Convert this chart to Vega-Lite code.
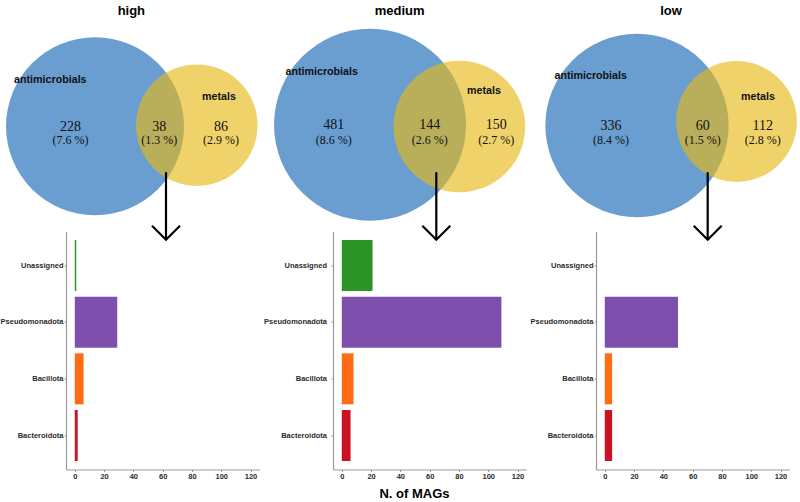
{
  "$schema": "https://vega.github.io/schema/vega-lite/v6.json",
  "background": "white",
  "padding": {"left": 0, "top": 4.5, "right": 0, "bottom": 0},
  "config": {
    "view": {"stroke": null},
    "font": "Liberation Sans",
    "title": {"font": "Liberation Sans", "fontSize": 13, "fontWeight": "bold", "color": "#000000", "anchor": "middle"},
    "axis": {"grid": false, "labelFont": "Liberation Sans", "labelFontSize": 7.5, "labelFontWeight": "bold", "labelColor": "#2b2b2b", "tickColor": "#999999", "domainColor": "#999999", "domainWidth": 1.2}
  },
  "datasets": {
    "sets": [
      {"level": "high", "set": "antimicrobials", "total": 266, "cx": 35.89, "cy": 54.46, "lx": 19.13, "ly": 34.2},
      {"level": "high", "set": "metals", "total": 124, "cx": 74.06, "cy": 53.98, "lx": 82.39, "ly": 41.86},
      {"level": "medium", "set": "antimicrobials", "total": 625, "cx": 39.5, "cy": 53.77, "lx": 21.39, "ly": 31.04},
      {"level": "medium", "set": "metals", "total": 294, "cx": 72.99, "cy": 54.55, "lx": 82.25, "ly": 39.26},
      {"level": "low", "set": "antimicrobials", "total": 396, "cx": 38.5, "cy": 54.11, "lx": 21.14, "ly": 32.9},
      {"level": "low", "set": "metals", "total": 172, "cx": 75.81, "cy": 52.38, "lx": 83.87, "ly": 41.69}
    ],
    "regions": [
      {"level": "high", "region": "antimicrobials only", "n": 228, "pct": 7.6, "tx": 26.74, "ty": 54.55},
      {"level": "high", "region": "both", "n": 38, "pct": 1.3, "tx": 60.0, "ty": 54.55},
      {"level": "high", "region": "metals only", "n": 86, "pct": 2.9, "tx": 83.14, "ty": 54.55},
      {"level": "medium", "region": "antimicrobials only", "n": 481, "pct": 8.6, "tx": 25.89, "ty": 53.9},
      {"level": "medium", "region": "both", "n": 144, "pct": 2.6, "tx": 61.89, "ty": 53.9},
      {"level": "medium", "region": "metals only", "n": 150, "pct": 2.7, "tx": 86.86, "ty": 53.9},
      {"level": "low", "region": "antimicrobials only", "n": 336, "pct": 8.4, "tx": 28.75, "ty": 54.42},
      {"level": "low", "region": "both", "n": 60, "pct": 1.5, "tx": 63.14, "ty": 54.42},
      {"level": "low", "region": "metals only", "n": 112, "pct": 2.8, "tx": 85.64, "ty": 54.42}
    ],
    "arrows": [
      {"level": "high", "ax": 62.51, "ay0": 74.33, "ay1": 103.59},
      {"level": "medium", "ax": 64.36, "ay0": 74.33, "ay1": 103.59},
      {"level": "low", "ax": 65.01, "ay0": 74.33, "ay1": 103.59}
    ],
    "bars": [
      {"level": "high", "phylum": "Unassigned", "n": 1},
      {"level": "high", "phylum": "Pseudomonadota", "n": 29},
      {"level": "high", "phylum": "Bacillota", "n": 6},
      {"level": "high", "phylum": "Bacteroidota", "n": 2},
      {"level": "medium", "phylum": "Unassigned", "n": 21},
      {"level": "medium", "phylum": "Pseudomonadota", "n": 109},
      {"level": "medium", "phylum": "Bacillota", "n": 8},
      {"level": "medium", "phylum": "Bacteroidota", "n": 6},
      {"level": "low", "phylum": "Unassigned", "n": 0},
      {"level": "low", "phylum": "Pseudomonadota", "n": 50},
      {"level": "low", "phylum": "Bacillota", "n": 5},
      {"level": "low", "phylum": "Bacteroidota", "n": 5}
    ]
  },
  "spacing": 3,
  "resolve": {"scale": {"size": "independent"}},
  "hconcat": [
    {
      "title": {"text": "high", "dx": -31.3, "offset": 19.3},
      "width": 193.3, "height": 238,
      "resolve": {"scale": {"x": "independent", "y": "independent"}},
      "layer": [
        {
          "data": {"name": "bars"},
          "transform": [{"filter": "datum.level == 'high'"}],
          "mark": {"type": "bar"},
          "encoding": {
            "x": {"field": "n", "type": "quantitative", "scale": {"domain": [-6, 126], "nice": false, "zero": false},
                  "axis": {"values": [0, 20, 40, 60, 80, 100, 120], "title": null, "tickSize": 2, "labelPadding": 0.5}},
            "y": {"field": "phylum", "type": "nominal", "sort": ["Unassigned", "Pseudomonadota", "Bacillota", "Bacteroidota"], "scale": {"paddingInner": 0.1, "paddingOuter": 0.15},
                  "axis": {"title": null, "tickSize": 2, "labelPadding": 1}},
            "color": {"field": "phylum", "type": "nominal", "scale": {"domain": ["Unassigned", "Pseudomonadota", "Bacillota", "Bacteroidota"], "range": ["#2c9326", "#7f4fae", "#ff6c14", "#cc1222"]}, "legend": null}
          }
        },
        {
          "layer": [
            {"data": {"name": "sets"}, "transform": [{"filter": "datum.level == 'high' && datum.set == 'antimicrobials'"}],
             "mark": {"type": "point", "filled": true, "shape": "circle", "color": "#6a9ed1", "opacity": 1},
             "encoding": {"x": {"field": "cx", "type": "quantitative", "scale": {"domain": [25.01, 97.5], "nice": false, "zero": false}, "axis": null},
                          "y": {"field": "cy", "type": "quantitative", "scale": {"domain": [100, 203.03], "nice": false, "zero": false, "reverse": true}, "axis": null},
                          "size": {"field": "total", "type": "quantitative", "scale": {"domain": [0, 266], "range": [0, 31684]}, "legend": null}}},
            {"data": {"name": "sets"}, "transform": [{"filter": "datum.level == 'high' && datum.set == 'metals'"}],
             "mark": {"type": "point", "filled": true, "shape": "circle", "color": "#e7b814", "opacity": 0.63},
             "encoding": {"x": {"field": "cx", "type": "quantitative", "axis": null}, "y": {"field": "cy", "type": "quantitative", "axis": null},
                          "size": {"field": "total", "type": "quantitative", "legend": null}}},
            {"data": {"name": "sets"}, "transform": [{"filter": "datum.level == 'high'"}],
             "mark": {"type": "text", "font": "Liberation Sans", "fontWeight": "bold", "fontSize": 10.7, "color": "#111111", "baseline": "middle"},
             "encoding": {"x": {"field": "lx", "type": "quantitative", "axis": null}, "y": {"field": "ly", "type": "quantitative", "axis": null}, "text": {"field": "set"}}},
            {"data": {"name": "regions"}, "transform": [{"filter": "datum.level == 'high'"}],
             "mark": {"type": "text", "font": "Liberation Serif", "fontSize": 14, "color": "#111111", "baseline": "middle"},
             "encoding": {"x": {"field": "tx", "type": "quantitative", "axis": null}, "y": {"field": "ty", "type": "quantitative", "axis": null}, "text": {"field": "n"}}},
            {"data": {"name": "regions"}, "transform": [{"filter": "datum.level == 'high'"}, {"calculate": "'(' + format(datum.pct, '.1f') + ' %)'", "as": "pctLabel"}],
             "mark": {"type": "text", "font": "Liberation Serif", "fontSize": 12, "color": "#111111", "baseline": "middle", "dy": 13.5},
             "encoding": {"x": {"field": "tx", "type": "quantitative", "axis": null}, "y": {"field": "ty", "type": "quantitative", "axis": null}, "text": {"field": "pctLabel"}}},
            {"data": {"name": "arrows"}, "transform": [{"filter": "datum.level == 'high'"}],
             "mark": {"type": "rule", "color": "#000000", "strokeWidth": 2.2},
             "encoding": {"x": {"field": "ax", "type": "quantitative", "axis": null}, "y": {"field": "ay0", "type": "quantitative", "axis": null}, "y2": {"field": "ay1"}}},
            {"data": {"name": "arrows"}, "transform": [{"filter": "datum.level == 'high'"}],
             "mark": {"type": "point", "shape": "M-1,-1L0,0L1,-1", "filled": false, "color": "#000000", "strokeWidth": 2.2, "size": 784, "opacity": 1},
             "encoding": {"x": {"field": "ax", "type": "quantitative", "axis": null}, "y": {"field": "ay1", "type": "quantitative", "axis": null}}}
          ]
        }
      ]
    },
    {
      "title": {"text": "medium", "dx": -30, "offset": 10.7},
      "width": 193.3, "height": 238,
      "resolve": {"scale": {"x": "independent", "y": "independent"}},
      "layer": [
        {
          "data": {"name": "bars"},
          "transform": [{"filter": "datum.level == 'medium'"}],
          "mark": {"type": "bar"},
          "encoding": {
            "x": {"field": "n", "type": "quantitative", "scale": {"domain": [-6, 126], "nice": false, "zero": false},
                  "axis": {"values": [0, 20, 40, 60, 80, 100, 120], "title": "N. of MAGs", "titleFont": "Liberation Sans", "titleFontSize": 13, "titleFontWeight": "bold", "titleColor": "#000000", "titleX": 81, "titleY": 28, "titleAlign": "center", "titleBaseline": "alphabetic", "tickSize": 2, "labelPadding": 0.5}},
            "y": {"field": "phylum", "type": "nominal", "sort": ["Unassigned", "Pseudomonadota", "Bacillota", "Bacteroidota"], "scale": {"paddingInner": 0.1, "paddingOuter": 0.15},
                  "axis": {"title": null, "tickSize": 2, "labelPadding": 4.5}},
            "color": {"field": "phylum", "type": "nominal", "scale": {"domain": ["Unassigned", "Pseudomonadota", "Bacillota", "Bacteroidota"], "range": ["#2c9326", "#7f4fae", "#ff6c14", "#cc1222"]}, "legend": null}
          }
        },
        {
          "layer": [
            {"data": {"name": "sets"}, "transform": [{"filter": "datum.level == 'medium' && datum.set == 'antimicrobials'"}],
             "mark": {"type": "point", "filled": true, "shape": "circle", "color": "#6a9ed1", "opacity": 1},
             "encoding": {"x": {"field": "cx", "type": "quantitative", "scale": {"domain": [25.62, 98.11], "nice": false, "zero": false}, "axis": null},
                          "y": {"field": "cy", "type": "quantitative", "scale": {"domain": [100, 203.03], "nice": false, "zero": false, "reverse": true}, "axis": null},
                          "size": {"field": "total", "type": "quantitative", "scale": {"domain": [0, 625], "range": [0, 36864]}, "legend": null}}},
            {"data": {"name": "sets"}, "transform": [{"filter": "datum.level == 'medium' && datum.set == 'metals'"}],
             "mark": {"type": "point", "filled": true, "shape": "circle", "color": "#e7b814", "opacity": 0.63},
             "encoding": {"x": {"field": "cx", "type": "quantitative", "axis": null}, "y": {"field": "cy", "type": "quantitative", "axis": null},
                          "size": {"field": "total", "type": "quantitative", "legend": null}}},
            {"data": {"name": "sets"}, "transform": [{"filter": "datum.level == 'medium'"}],
             "mark": {"type": "text", "font": "Liberation Sans", "fontWeight": "bold", "fontSize": 10.7, "color": "#111111", "baseline": "middle"},
             "encoding": {"x": {"field": "lx", "type": "quantitative", "axis": null}, "y": {"field": "ly", "type": "quantitative", "axis": null}, "text": {"field": "set"}}},
            {"data": {"name": "regions"}, "transform": [{"filter": "datum.level == 'medium'"}],
             "mark": {"type": "text", "font": "Liberation Serif", "fontSize": 14, "color": "#111111", "baseline": "middle"},
             "encoding": {"x": {"field": "tx", "type": "quantitative", "axis": null}, "y": {"field": "ty", "type": "quantitative", "axis": null}, "text": {"field": "n"}}},
            {"data": {"name": "regions"}, "transform": [{"filter": "datum.level == 'medium'"}, {"calculate": "'(' + format(datum.pct, '.1f') + ' %)'", "as": "pctLabel"}],
             "mark": {"type": "text", "font": "Liberation Serif", "fontSize": 12, "color": "#111111", "baseline": "middle", "dy": 14.5},
             "encoding": {"x": {"field": "tx", "type": "quantitative", "axis": null}, "y": {"field": "ty", "type": "quantitative", "axis": null}, "text": {"field": "pctLabel"}}},
            {"data": {"name": "arrows"}, "transform": [{"filter": "datum.level == 'medium'"}],
             "mark": {"type": "rule", "color": "#000000", "strokeWidth": 2.2},
             "encoding": {"x": {"field": "ax", "type": "quantitative", "axis": null}, "y": {"field": "ay0", "type": "quantitative", "axis": null}, "y2": {"field": "ay1"}}},
            {"data": {"name": "arrows"}, "transform": [{"filter": "datum.level == 'medium'"}],
             "mark": {"type": "point", "shape": "M-1,-1L0,0L1,-1", "filled": false, "color": "#000000", "strokeWidth": 2.2, "size": 784, "opacity": 1},
             "encoding": {"x": {"field": "ax", "type": "quantitative", "axis": null}, "y": {"field": "ay1", "type": "quantitative", "axis": null}}}
          ]
        }
      ]
    },
    {
      "title": {"text": "low", "dx": -21.6, "offset": 15.85},
      "width": 193.3, "height": 238,
      "resolve": {"scale": {"x": "independent", "y": "independent"}},
      "layer": [
        {
          "data": {"name": "bars"},
          "transform": [{"filter": "datum.level == 'low'"}],
          "mark": {"type": "bar"},
          "encoding": {
            "x": {"field": "n", "type": "quantitative", "scale": {"domain": [-6, 126], "nice": false, "zero": false},
                  "axis": {"values": [0, 20, 40, 60, 80, 100, 120], "title": null, "tickSize": 2, "labelPadding": 0.5}},
            "y": {"field": "phylum", "type": "nominal", "sort": ["Unassigned", "Pseudomonadota", "Bacillota", "Bacteroidota"], "scale": {"paddingInner": 0.1, "paddingOuter": 0.15},
                  "axis": {"title": null, "tickSize": 2, "labelPadding": 1}},
            "color": {"field": "phylum", "type": "nominal", "scale": {"domain": ["Unassigned", "Pseudomonadota", "Bacillota", "Bacteroidota"], "range": ["#2c9326", "#7f4fae", "#ff6c14", "#cc1222"]}, "legend": null}
          }
        },
        {
          "layer": [
            {"data": {"name": "sets"}, "transform": [{"filter": "datum.level == 'low' && datum.set == 'antimicrobials'"}],
             "mark": {"type": "point", "filled": true, "shape": "circle", "color": "#6a9ed1", "opacity": 1},
             "encoding": {"x": {"field": "cx", "type": "quantitative", "scale": {"domain": [23.13, 95.61], "nice": false, "zero": false}, "axis": null},
                          "y": {"field": "cy", "type": "quantitative", "scale": {"domain": [100, 203.03], "nice": false, "zero": false, "reverse": true}, "axis": null},
                          "size": {"field": "total", "type": "quantitative", "scale": {"domain": [0, 396], "range": [0, 33599]}, "legend": null}}},
            {"data": {"name": "sets"}, "transform": [{"filter": "datum.level == 'low' && datum.set == 'metals'"}],
             "mark": {"type": "point", "filled": true, "shape": "circle", "color": "#e7b814", "opacity": 0.63},
             "encoding": {"x": {"field": "cx", "type": "quantitative", "axis": null}, "y": {"field": "cy", "type": "quantitative", "axis": null},
                          "size": {"field": "total", "type": "quantitative", "legend": null}}},
            {"data": {"name": "sets"}, "transform": [{"filter": "datum.level == 'low'"}],
             "mark": {"type": "text", "font": "Liberation Sans", "fontWeight": "bold", "fontSize": 10.7, "color": "#111111", "baseline": "middle"},
             "encoding": {"x": {"field": "lx", "type": "quantitative", "axis": null}, "y": {"field": "ly", "type": "quantitative", "axis": null}, "text": {"field": "set"}}},
            {"data": {"name": "regions"}, "transform": [{"filter": "datum.level == 'low'"}],
             "mark": {"type": "text", "font": "Liberation Serif", "fontSize": 14, "color": "#111111", "baseline": "middle"},
             "encoding": {"x": {"field": "tx", "type": "quantitative", "axis": null}, "y": {"field": "ty", "type": "quantitative", "axis": null}, "text": {"field": "n"}}},
            {"data": {"name": "regions"}, "transform": [{"filter": "datum.level == 'low'"}, {"calculate": "'(' + format(datum.pct, '.1f') + ' %)'", "as": "pctLabel"}],
             "mark": {"type": "text", "font": "Liberation Serif", "fontSize": 12, "color": "#111111", "baseline": "middle", "dy": 13.5},
             "encoding": {"x": {"field": "tx", "type": "quantitative", "axis": null}, "y": {"field": "ty", "type": "quantitative", "axis": null}, "text": {"field": "pctLabel"}}},
            {"data": {"name": "arrows"}, "transform": [{"filter": "datum.level == 'low'"}],
             "mark": {"type": "rule", "color": "#000000", "strokeWidth": 2.2},
             "encoding": {"x": {"field": "ax", "type": "quantitative", "axis": null}, "y": {"field": "ay0", "type": "quantitative", "axis": null}, "y2": {"field": "ay1"}}},
            {"data": {"name": "arrows"}, "transform": [{"filter": "datum.level == 'low'"}],
             "mark": {"type": "point", "shape": "M-1,-1L0,0L1,-1", "filled": false, "color": "#000000", "strokeWidth": 2.2, "size": 784, "opacity": 1},
             "encoding": {"x": {"field": "ax", "type": "quantitative", "axis": null}, "y": {"field": "ay1", "type": "quantitative", "axis": null}}}
          ]
        }
      ]
    }
  ]
}
